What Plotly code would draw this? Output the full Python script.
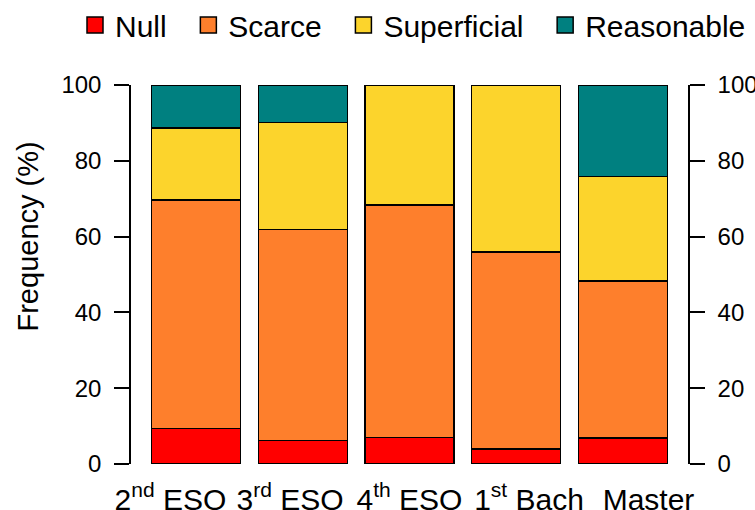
import plotly.graph_objects as go

categories = ["2<sup>nd</sup> ESO", "3<sup>rd</sup> ESO", "4<sup>th</sup> ESO", "1<sup>st</sup> Bach", "Master"]
null_vals = [9.4, 6.2, 7.0, 4.0, 6.9]
scarce_vals = [60.3, 55.7, 61.4, 51.9, 41.4]
superficial_vals = [18.9, 28.2, 31.6, 44.1, 27.5]
reasonable_vals = [11.4, 9.9, 0.0, 0.0, 24.2]
y_ticks = [0, 20, 40, 60, 80, 100]

series = [
    ("Null", null_vals, "#FF0000"),
    ("Scarce", scarce_vals, "#FE7F2C"),
    ("Superficial", superficial_vals, "#FCD42C"),
    ("Reasonable", reasonable_vals, "#008080"),
]

FONT = "Liberation Sans, Arial, sans-serif"
NBSP = "\u00a0"

n = len(categories)
bar_pos = list(range(n))
mid = (n - 1) / 2
label_spread = 1.12  # category labels are spread a little wider than the bars
label_pos = [mid + (i - mid) * label_spread for i in bar_pos]

fig = go.Figure()
for name, vals, col in series:
    fig.add_trace(go.Bar(
        x=bar_pos, y=vals, name=name, showlegend=False,
        customdata=categories,
        hovertemplate="%{customdata}<br>" + name + ": %{y}<extra></extra>",
        marker=dict(color=col, line=dict(color="black", width=1.5)),
    ))

# legend entries (square keys)
for i, (name, vals, col) in enumerate(series):
    pad = NBSP * 2 if i < len(series) - 1 else ""
    fig.add_trace(go.Scatter(
        x=[None], y=[None], mode="markers", name=name + pad,
        marker=dict(symbol="square", size=20, color=col, line=dict(color="black", width=1.5)),
        hoverinfo="skip",
    ))

# invisible trace to activate right-hand axis
fig.add_trace(go.Scatter(
    x=[bar_pos[0]], y=[0], yaxis="y2", mode="markers",
    marker=dict(opacity=0), showlegend=False, hoverinfo="skip",
))

axis_common = dict(
    range=[0, 100], tickvals=y_ticks, ticks="outside", ticklen=15,
    tickwidth=1.5, tickcolor="black", showline=True, linecolor="black",
    linewidth=1.5, showgrid=False, zeroline=False,
    tickfont=dict(size=24, color="black", family=FONT),
    ticklabelstandoff=8,
)

fig.update_layout(
    width=755, height=510,
    margin=dict(l=131, r=67, t=85, b=46, autoexpand=False),
    paper_bgcolor="white", plot_bgcolor="white",
    barmode="stack", bargap=1 - 1 / 1.2,
    font=dict(family=FONT, color="black"),
    xaxis=dict(
        range=[-0.61, 4.61], showline=False, ticks="", showgrid=False,
        zeroline=False, tickvals=label_pos, ticktext=categories,
        tickfont=dict(size=30, color="black", family=FONT),
        ticklabelstandoff=15,
    ),
    yaxis=dict(**axis_common),
    yaxis2=dict(**axis_common, overlaying="y", side="right"),
    legend=dict(
        orientation="h", xref="paper", yref="paper",
        x=(75 - 131) / 557, xanchor="left", y=(464 - 25) / 379, yanchor="middle",
        font=dict(size=30, color="black", family=FONT),
        itemsizing="trace", traceorder="normal",
        bgcolor="rgba(0,0,0,0)",
    ),
    showlegend=True,
    annotations=[dict(
        text="Frequency (%)", textangle=-90, showarrow=False,
        xref="paper", yref="paper",
        x=(27 - 131) / 557, y=(464 - 236.5) / 379,
        xanchor="center", yanchor="middle",
        font=dict(size=29, color="black", family=FONT),
    )],
)

fig.write_html(
    "out.html",
    config={"displayModeBar": False},
    post_script="document.body.style.margin='0';",
)
